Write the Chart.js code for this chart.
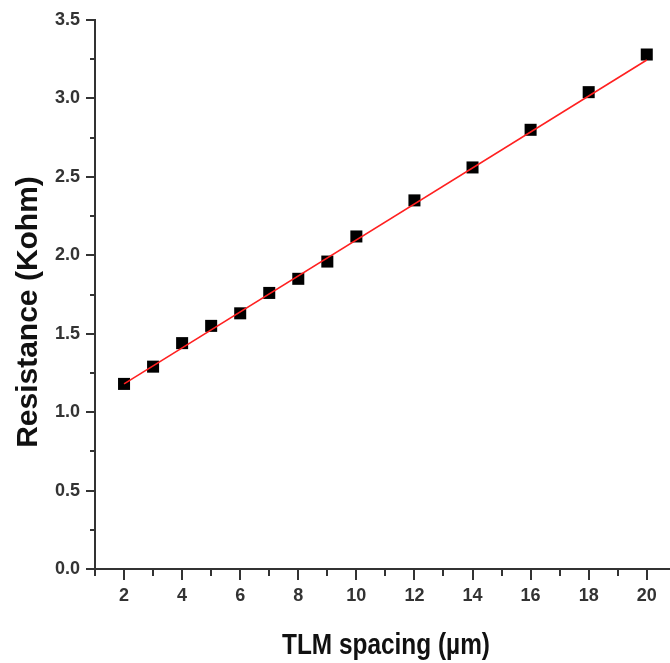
<!DOCTYPE html>
<html>
<head>
<meta charset="utf-8">
<title>TLM resistance</title>
<script src="https://cdn.jsdelivr.net/npm/chart.js@4"></script>
<style>
    html, body { margin: 0; padding: 0; background: #fff; }
    #wrap { width: 670px; height: 663px; position: relative; }
</style>
</head>
<body>
<div id="wrap"><canvas id="tlm-chart"></canvas></div>
<script>
// measured points (TLM spacing in um, resistance in kohm)
const spacing = [2, 3, 4, 5, 6, 7, 8, 9, 10, 12, 14, 16, 18, 20];
const resistance = [1.18, 1.29, 1.44, 1.55, 1.63, 1.76, 1.85, 1.96, 2.12, 2.35, 2.56, 2.80, 3.04, 3.28];

// linear fit
const fitX = [2, 20];
const fitY = [1.18, 3.245];

const xMajor = [2, 4, 6, 8, 10, 12, 14, 16, 18, 20];
const xMinor = [1, 3, 5, 7, 9, 11, 13, 15, 17, 19];
const yMinor = [0.25, 0.75, 1.25, 1.75, 2.25, 2.75, 3.25];

const axisColor = '#333';
const tickFont = { family: "'Liberation Sans', Arial, sans-serif", size: 18, weight: 'bold' };

// short minor ticks + the two axis titles
const extras = {
    id: 'extras',
    afterDraw(chart) {
        const ctx = chart.ctx;
        const x = chart.scales.x;
        const y = chart.scales.y;
        const area = chart.chartArea;

        ctx.save();
        ctx.strokeStyle = axisColor;
        ctx.lineWidth = 2;
        ctx.beginPath();
        xMinor.forEach(v => {
            const px = Math.round(x.getPixelForValue(v));
            ctx.moveTo(px, area.bottom);
            ctx.lineTo(px, area.bottom + 7);
        });
        yMinor.forEach(v => {
            const py = Math.round(y.getPixelForValue(v));
            ctx.moveTo(area.left, py);
            ctx.lineTo(area.left - 5, py);
        });
        ctx.stroke();

        ctx.fillStyle = '#111';
        ctx.font = "bold 30px 'Liberation Sans', Arial, sans-serif";
        ctx.textBaseline = 'alphabetic';
        ctx.textAlign = 'center';

        // y title, rotated
        ctx.save();
        ctx.translate(37, 312);
        ctx.rotate(-Math.PI / 2);
        ctx.fillText('Resistance (Kohm)', 0, 0);
        ctx.restore();

        // x title is condensed in the original
        const label = 'TLM spacing (\u00b5m)';
        const w = ctx.measureText(label).width;
        ctx.save();
        ctx.translate(386, 654);
        ctx.scale(208 / w, 1);
        ctx.fillText(label, 0, 0);
        ctx.restore();

        ctx.restore();
    }
};

new Chart(document.getElementById('tlm-chart'), {
    data: {
        datasets: [
            {
                type: 'line',
                data: fitX.map((v, i) => ({ x: v, y: fitY[i] })),
                borderColor: '#ff2020',
                borderWidth: 1.6,
                pointRadius: 0,
                fill: false,
                order: 0
            },
            {
                type: 'scatter',
                data: spacing.map((v, i) => ({ x: v, y: resistance[i] })),
                pointStyle: 'rect',
                pointRadius: 8.5,
                pointBackgroundColor: '#000',
                pointBorderWidth: 0,
                order: 1
            }
        ]
    },
    options: {
        responsive: true,
        maintainAspectRatio: false,
        animation: false,
        layout: {
            autoPadding: false,
            padding: { top: 20, right: 0, left: 0, bottom: 0 }
        },
        plugins: {
            legend: { display: false },
            tooltip: { enabled: false }
        },
        scales: {
            x: {
                type: 'linear',
                min: 1,
                max: 20.8,
                afterBuildTicks: scale => {
                    scale.ticks = xMajor.map(v => ({ value: v }));
                },
                afterFit: scale => {
                    scale.height = 94;
                    scale.paddingLeft = 0;
                    scale.paddingRight = 0;
                },
                ticks: {
                    font: tickFont,
                    color: axisColor,
                    padding: 5,
                    maxRotation: 0,
                    autoSkip: false,
                    callback: v => String(v)
                },
                grid: {
                    drawOnChartArea: false,
                    tickLength: 11,
                    lineWidth: 2,
                    color: axisColor
                },
                border: { display: true, color: axisColor, width: 2 }
            },
            y: {
                type: 'linear',
                min: 0,
                max: 3.5,
                afterFit: scale => {
                    scale.width = 95;
                    scale.paddingTop = 0;
                    scale.paddingBottom = 0;
                },
                ticks: {
                    stepSize: 0.5,
                    font: tickFont,
                    color: axisColor,
                    padding: 6,
                    callback: v => v.toFixed(1)
                },
                grid: {
                    drawOnChartArea: false,
                    tickLength: 9,
                    lineWidth: 2,
                    color: axisColor
                },
                border: { display: true, color: axisColor, width: 2 }
            }
        }
    },
    plugins: [extras]
});
</script>
</body>
</html>
